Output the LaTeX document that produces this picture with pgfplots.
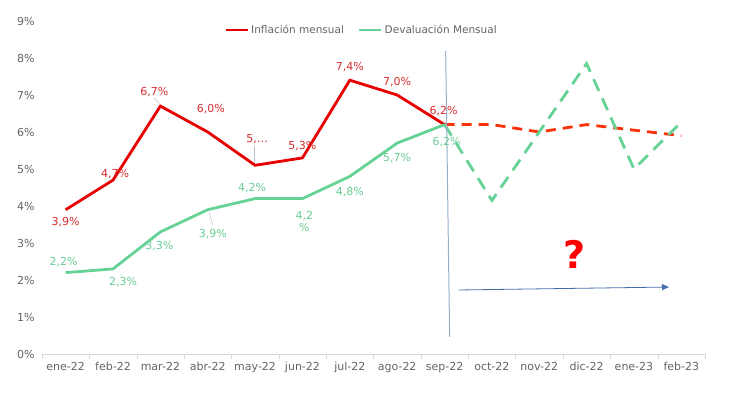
\documentclass[border=0pt]{standalone}
\usepackage{pgfplots}
\pgfplotsset{compat=1.18}
\usepackage{pgfplotstable}
\usepackage{fontspec}
\setmainfont{DejaVu Sans}
\usetikzlibrary{arrows.meta}
\definecolor{redline}{RGB}{232,0,0}
\definecolor{reddash}{RGB}{250,50,10}
\definecolor{greenline}{RGB}{102,210,150}
\definecolor{redlab}{RGB}{215,45,45}
\definecolor{greenlab}{RGB}{105,205,150}
\definecolor{ticktext}{RGB}{100,100,100}
\definecolor{vline}{RGB}{150,175,205}
\definecolor{arrowc}{RGB}{70,110,175}
\protected\def\lbA{\shortstack{4,2\\\%}}
\pgfplotstableread{
x y dx dy lab
0 3.9 0 -12 {3,9\%}
1 4.7 2 6 {4,7\%}
2 6.7 -6 14 {6,7\%}
3 6.0 3 23 {6,0\%}
4 5.1 2 26 {5,…}
5 5.3 0 12 {5,3\%}
6 7.4 0 13 {7,4\%}
7 7.0 0 13 {7,0\%}
8 6.2 -1 14 {6,2\%}
}\infl
\pgfplotstableread{
x y dx dy lab
0 2.2 -2 11 {2,2\%}
1 2.3 10 -13 {2,3\%}
2 3.3 -1 -14 {3,3\%}
3 3.9 5 -24 {3,9\%}
4 4.2 -3 11 {4,2\%}
5 4.2 2 -23 \lbA
6 4.8 0 -16 {4,8\%}
7 5.7 0 -15 {5,7\%}
8 6.2 2 -17 {6,2\%}
}\deval
\pgfplotstableread{
x y
8 6.2
9 6.2
10 6.0
11 6.2
12 6.05
13 5.9
}\inflf
\pgfplotstableread{
x y
8 6.2
9 4.15
10 6.0
11 7.85
12 5.0
13 6.27
}\devalf
\begin{document}
\begin{tikzpicture}
\useasboundingbox (0,0) rectangle (730pt,393pt);
\begin{axis}[
  at={(42pt,39pt)}, anchor=south west,
  scale only axis, width=663pt, height=333pt,
  xmin=-0.5, xmax=13.5, ymin=0, ymax=9,
  clip=false,
  axis x line=bottom, axis y line=left,
  x axis line style={draw={rgb,255:red,217;green,217;blue,217},-},
  y axis line style={draw=none},
  xtick={0,...,13},
  xticklabels={ene-22,feb-22,mar-22,abr-22,may-22,jun-22,jul-22,ago-22,sep-22,oct-22,nov-22,dic-22,ene-23,feb-23},
  minor xtick={-0.5,0.5,...,13.5},
  major tick length=0pt, minor tick length=5pt,
  xtick align=outside,
  x tick style={draw={rgb,255:red,217;green,217;blue,217}},
  ytick={0,...,9},
  yticklabels={0\%,1\%,2\%,3\%,4\%,5\%,6\%,7\%,8\%,9\%},
  y tick style={draw=none},
  tick label style={font=\fontsize{11}{12}\selectfont, text=ticktext},
  xticklabel style={yshift=-5pt},
  yticklabel style={xshift=-4pt},
  legend columns=2,
  legend style={at={(0.482,0.973)}, anchor=center, draw=none, fill=none,
    font=\fontsize{10.5}{12}\selectfont, text=ticktext, inner sep=0pt,
    /tikz/every even column/.append style={column sep=12pt}},
  legend cell align=left,
  legend image code/.code={\draw[#1] (0pt,0pt) -- (22pt,0pt);},
]
\addplot[redline, line width=2.8pt,
  point meta=explicit symbolic, nodes near coords,
  visualization depends on={\thisrow{dx}\as\dx},
  visualization depends on={\thisrow{dy}\as\dy},
  nodes near coords style={anchor=center, xshift=\dx pt, yshift=\dy pt,
    font=\fontsize{11}{11}\selectfont, text=redlab, inner sep=0pt}]
  table[x=x, y=y, meta=lab] {\infl};
\addlegendentry{Inflación mensual}
\addplot[greenline, line width=2.8pt,
  point meta=explicit symbolic, nodes near coords,
  visualization depends on={\thisrow{dx}\as\dx},
  visualization depends on={\thisrow{dy}\as\dy},
  nodes near coords style={anchor=center, xshift=\dx pt, yshift=\dy pt,
    font=\fontsize{11}{11}\selectfont, text=greenlab, inner sep=0pt}]
  table[x=x, y=y, meta=lab] {\deval};
\addlegendentry{Devaluación Mensual}
\addplot[reddash, line width=2.8pt, dash pattern=on 10pt off 7pt, forget plot]
  table[x=x, y=y] {\inflf};
\addplot[greenline, line width=2.8pt, dash pattern=on 13pt off 8pt, forget plot]
  table[x=x, y=y] {\devalf};
\draw[vline, line width=1pt] (axis cs:8.024,8.19) -- (axis cs:8.108,0.46);
\draw[arrowc, line width=0.8pt, -{Triangle[length=7pt,width=6pt]}] (axis cs:8.30,1.73) -- (axis cs:12.74,1.81);
\node[text=red, font=\fontsize{38}{40}\selectfont\bfseries] at (axis cs:10.75,2.68) {?};
\draw[gray!50, line width=0.5pt] (axis cs:2,6.7) ++(-1pt,2pt) -- ++(-5pt,6pt);
\draw[gray!50, line width=0.5pt] (axis cs:4,5.1) ++(-1pt,2pt) -- ++(0pt,17pt);
\draw[gray!50, line width=0.5pt] (axis cs:3,3.9) ++(1pt,-2pt) -- ++(4pt,-13pt);
\end{axis}
\end{tikzpicture}
\end{document}
